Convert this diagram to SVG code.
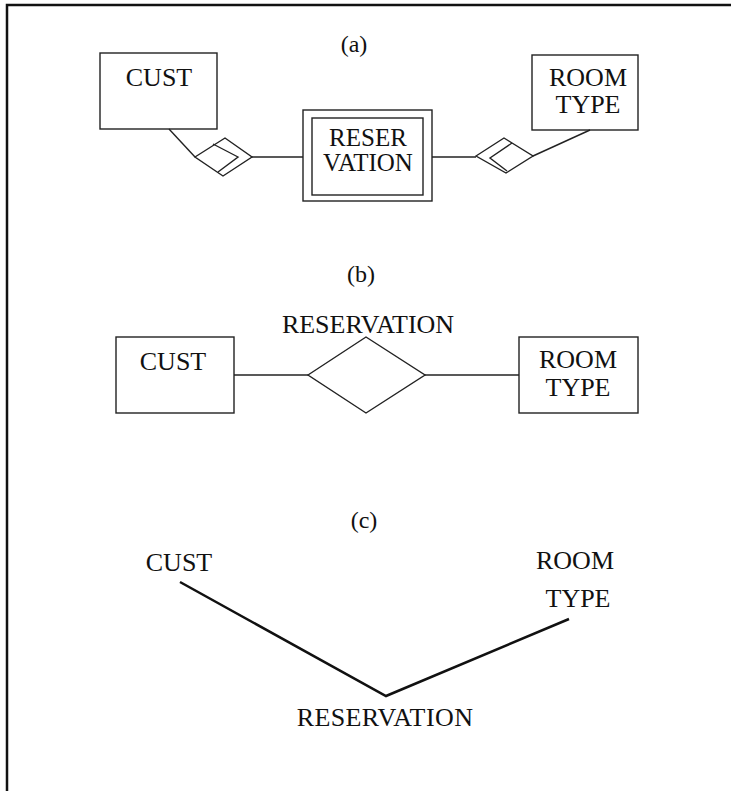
<svg xmlns="http://www.w3.org/2000/svg" width="731" height="791" viewBox="0 0 731 791">
<style>
text{font-family:"Liberation Serif","Times New Roman",serif;font-size:26px;fill:#111;text-anchor:middle}
.lbl{font-size:24px}
.sm{font-size:25px}
.box{fill:none;stroke:#222;stroke-width:1.4}
.ln{fill:none;stroke:#222;stroke-width:1.4}
.thick{fill:none;stroke:#111;stroke-width:2.5}
</style>
<rect width="731" height="791" fill="#fff"/>
<path d="M7,791 V5 H731" fill="none" stroke="#111" stroke-width="2.5"/>
<text class="lbl" x="354" y="52">(a)</text>
<text class="lbl" x="361" y="282">(b)</text>
<text class="lbl" x="364" y="528">(c)</text>
<g id="connectors">
<path class="ln" d="M169,129 L195,157"/>
<path class="ln" d="M252,157 H303"/>
<path class="ln" d="M432,157 H476"/>
<path class="ln" d="M533,156 L590,130"/>
<path class="ln" d="M234,375 H308"/>
<path class="ln" d="M425,375 H519"/>
<path class="thick" d="M180,582 L386,696 L569,619"/>
</g>
<g id="a-cust"><rect class="box" x="100" y="53" width="117" height="76"/><text x="159" y="86">CUST</text></g>
<g id="a-rel-left"><path class="box" d="M195,157 L225,138 L252,157 L223,176 Z"/><path class="ln" d="M213,144 L238,157 L218,172"/></g>
<g id="a-reservation"><rect class="box" x="303" y="110" width="129" height="91"/><rect class="box" x="312" y="118" width="111" height="77"/><text class="sm" x="368" y="146">RESER</text><text class="sm" x="368" y="171">VATION</text></g>
<g id="a-rel-right"><path class="box" d="M476,156 L504,138 L533,156 L506,173 Z"/><path class="ln" d="M512,143 L490,158 L507,171"/></g>
<g id="a-roomtype"><rect class="box" x="532" y="55" width="106" height="75"/><text x="588" y="86">ROOM</text><text x="588" y="113">TYPE</text></g>
<g id="b-cust"><rect class="box" x="116" y="337" width="118" height="76"/><text x="173" y="370">CUST</text></g>
<g id="b-reservation"><path class="box" d="M308,375 L366,337 L425,375 L366,413 Z"/><text x="368" y="333">RESERVATION</text></g>
<g id="b-roomtype"><rect class="box" x="519" y="337" width="119" height="76"/><text x="578" y="368">ROOM</text><text x="578" y="396">TYPE</text></g>
<g id="c-cust"><text x="179" y="571">CUST</text></g>
<g id="c-roomtype"><text x="575" y="569">ROOM</text><text x="578" y="607">TYPE</text></g>
<g id="c-reservation"><text x="385" y="726" letter-spacing="0.4">RESERVATION</text></g>
</svg>
